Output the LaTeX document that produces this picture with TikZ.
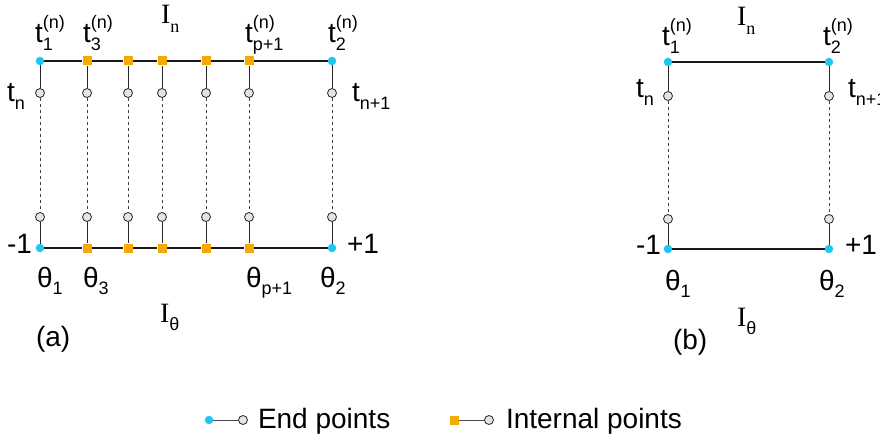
\documentclass[tikz,border=0pt]{standalone}
\usepackage{fontspec}
\setmainfont{Liberation Sans}
\newfontfamily\serifI{Liberation Serif}
\definecolor{endc}{RGB}{30,198,240}
\definecolor{intc}{RGB}{245,170,0}
\definecolor{openc}{RGB}{228,228,228}
\newcommand\smallf{\fontsize{18}{18}\selectfont}
\newcommand\tsb[3]{#1\rlap{\raisebox{-0.27em}{\smallf #2}}\raisebox{0.5em}{\smallf #3}}
\newcommand\tsbs[2]{#1\raisebox{-0.27em}{\smallf #2}}
\newcommand\Ilab[1]{{\serifI I\raisebox{-0.3em}{\fontsize{18}{18}\selectfont #1}}}
\newcommand\Ith{{\serifI I}\raisebox{-0.3em}{\smallf θ}}
\tikzset{
  lab/.style={font=\fontsize{28}{32}\selectfont, inner sep=0pt, outer sep=0pt, anchor=base west},
  endpt/.style={circle, fill=endc, inner sep=0pt, minimum size=8.5pt},
  intpt/.style={rectangle, fill=intc, inner sep=0pt, minimum size=9pt},
  openpt/.style={circle, draw=black!85, fill=openc, line width=0.8pt, inner sep=0pt, minimum size=9pt},
  hline/.style={line width=1.2pt, black!90},
  vline/.style={line width=0.9pt, black!85},
  dline/.style={line width=0.9pt, black!75, dash pattern=on 3.5pt off 2.5pt},
}
\begin{document}
\begin{tikzpicture}[x=1pt,y=-1pt]
\useasboundingbox (0,0) rectangle (880,441);
% ---------- panel (a)
\foreach \x [count=\i] in {40,87,128,162,206,249,332} {
  \node[openpt] (ca\i) at (\x,93) {};
  \node[openpt] (da\i) at (\x,217) {};
}
\node[endpt] (ta1) at (40,61) {};
\node[endpt] (ba1) at (40,248) {};
\node[endpt] (ta7) at (332,61) {};
\node[endpt] (ba7) at (332,248) {};
\foreach \x [count=\j from 2] in {87,128,162,206,249} {
  \node[intpt] (ta\j) at (\x,61) {};
  \node[intpt] (ba\j) at (\x,248) {};
}
\draw[hline] (ta1) -- (ta2) -- (ta3) -- (ta4) -- (ta5) -- (ta6) -- (ta7);
\draw[hline] (ba1) -- (ba2) -- (ba3) -- (ba4) -- (ba5) -- (ba6) -- (ba7);
\foreach \i in {1,...,7} {
  \draw[vline] (ta\i) -- (ca\i);
  \draw[dline] (ca\i) -- (da\i);
  \draw[vline] (da\i) -- (ba\i);
}
\node[lab] (la1) at (35,43) {\tsb{t}{1}{(n)}};
\node[lab] (la3) at (83,43) {\tsb{t}{3}{(n)}};
\node[lab] (lap) at (245,43) {\tsb{t}{p+1}{(n)}};
\node[lab] (la2) at (328,43) {\tsb{t}{2}{(n)}};
\node[lab] (lIn) at (161,24) {\Ilab{n}};
\node[lab] (ltn) at (7,102) {\tsbs{t}{n}};
\node[lab] (ltn1) at (352,102) {\tsbs{t}{n+1}};
\node[lab] (lm1) at (7,253) {-1};
\node[lab] (lp1) at (347,253) {+1};
\node[lab] (th1) at (37,287) {\tsbs{θ}{1}};
\node[lab] (th3) at (83,287) {\tsbs{θ}{3}};
\node[lab] (thp) at (246,287) {\tsbs{θ}{p+1}};
\node[lab] (th2) at (320,287) {\tsbs{θ}{2}};
\node[lab] (lIth) at (160,322) {\Ith};
\node[lab] (capa) at (36,346) {(a)};
% ---------- panel (b)
\node[endpt] (tb1) at (668,62) {};
\node[endpt] (tb2) at (829,62) {};
\node[openpt] (cb1) at (668,96) {};
\node[openpt] (cb2) at (829,96) {};
\node[openpt] (db1) at (668,219) {};
\node[openpt] (db2) at (829,219) {};
\node[endpt] (bb1) at (668,249) {};
\node[endpt] (bb2) at (829,249) {};
\draw[hline] (tb1) -- (tb2);
\draw[hline] (bb1) -- (bb2);
\foreach \i in {1,2} {
  \draw[vline] (tb\i) -- (cb\i);
  \draw[dline] (cb\i) -- (db\i);
  \draw[vline] (db\i) -- (bb\i);
}
\node[lab] (lb1) at (662,46) {\tsb{t}{1}{(n)}};
\node[lab] (lb2) at (823,46) {\tsb{t}{2}{(n)}};
\node[lab] (lbIn) at (737,26) {\Ilab{n}};
\node[lab] (lbtn) at (636,98) {\tsbs{t}{n}};
\node[lab] (lbtn1) at (848,98) {\tsbs{t}{n+1}};
\node[lab] (lbm1) at (636,254) {-1};
\node[lab] (lbp1) at (845,254) {+1};
\node[lab] (bth1) at (665,290) {\tsbs{θ}{1}};
\node[lab] (bth2) at (819,290) {\tsbs{θ}{2}};
\node[lab] (lbIth) at (737,326) {\Ith};
\node[lab] (capb) at (673,349) {(b)};
% ---------- legend
\node[endpt] (le1) at (209,420) {};
\node[openpt] (le2) at (243,420) {};
\draw[vline, black!70] (le1) -- (le2);
\node[lab] (let) at (258,428) {End points};
\node[intpt] (li1) at (454,420) {};
\node[openpt] (li2) at (489,420) {};
\draw[vline, black!70] (li1) -- (li2);
\node[lab] (lit) at (506,428) {Internal points};
\end{tikzpicture}
\end{document}
